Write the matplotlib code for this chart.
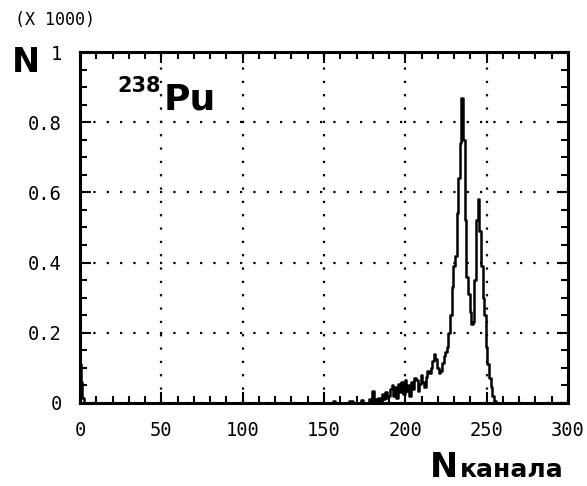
import numpy as np
import matplotlib
matplotlib.use("Agg")
import matplotlib.pyplot as plt
from matplotlib.ticker import MultipleLocator

# alpha spectrum of Pu-238: channel number vs counts
channels = [0, 1, 2, 3,
            150, 155, 156, 157, 160, 165, 166, 170, 172, 173, 175,
            176, 177, 178, 179, 180, 181, 182, 183, 184, 185, 186, 187, 188, 189,
            190, 191, 192, 193, 194, 195, 196, 197, 198, 199,
            200, 201, 202, 203, 204, 205, 206, 207, 208, 209,
            210, 211, 212, 213, 214, 215, 216, 217, 218, 219,
            220, 221, 222, 223, 224, 225, 226, 227, 228, 229,
            230, 231, 232, 233, 234, 235, 236, 237, 238, 239,
            240, 241, 242, 243, 244, 245, 246, 247, 248, 249,
            250, 251, 252, 253, 254, 255, 256, 300]
counts = [110, 60, 15, 0,
          0, 0, 5, 0, 0, 0, 6, 0, 0, 8, 0,
          0, 0, 10, 5, 35, 5, 10, 0, 15, 5, 25, 10, 30, 15,
          20, 40, 50, 20, 45, 15, 55, 30, 60, 25,
          65, 35, 50, 20, 60, 40, 70, 65, 35, 55,
          80, 60, 45, 75, 90, 85, 100, 120, 140, 125,
          100, 85, 90, 115, 135, 145, 160, 200, 250, 330,
          390, 420, 540, 640, 740, 870, 750, 520, 360, 310,
          260, 225, 230, 350, 520, 580, 490, 390, 300, 250,
          160, 110, 70, 45, 20, 5, 0, 0]

x_ticks = [0, 50, 100, 150, 200, 250, 300]
y_ticks = [0, 0.2, 0.4, 0.6, 0.8, 1]
y_tick_labels = ["0", "0.2", "0.4", "0.6", "0.8", "1"]

fig = plt.figure(figsize=(5.87, 4.86), dpi=100)
ax = fig.add_axes([80 / 587, 1 - 403 / 486, 488 / 587, 351 / 486])

ax.plot(channels, np.array(counts) / 1000, color="black", lw=1.8,
        drawstyle="steps-mid")

ax.set_xlim(0, 300)
ax.set_ylim(0, 1)
ax.set_xticks(x_ticks)
ax.set_yticks(y_ticks)
ax.set_yticklabels(y_tick_labels)
ax.xaxis.set_minor_locator(MultipleLocator(10))
ax.yaxis.set_minor_locator(MultipleLocator(0.05))

ax.grid(True, which="major", color="black", linestyle=(0, (1, 5)), linewidth=1.6)
ax.tick_params(which="both", direction="in", top=True, right=True,
               color="black", width=1.5)
ax.tick_params(which="major", length=8, pad=13,
               labelsize=13.5, labelfontfamily="DejaVu Sans Mono")
ax.tick_params(which="minor", length=5)
for sp in ax.spines.values():
    sp.set_linewidth(2.2)

fig.text(15 / 587, 1 - 20 / 486, "(X 1000)", family="DejaVu Sans Mono",
         fontsize=12, va="center", ha="left")
fig.text(12 / 587, 1 - 63 / 486, "N", fontsize=24, fontweight="bold",
         va="center", ha="left")
fig.text(117 / 587, 1 - 86 / 486, "238", fontsize=15, fontweight="bold",
         va="center", ha="left")
fig.text(164 / 587, 1 - 99 / 486, "Pu", fontsize=26, fontweight="bold",
         va="center", ha="left")
fig.text(430 / 587, 1 - 467 / 486, "N", fontsize=24, fontweight="bold",
         va="center", ha="left")
fig.text(460 / 587, 1 - 470 / 486, "канала", fontsize=18, fontweight="bold",
         va="center", ha="left")

fig.savefig("out.png", dpi=100)
